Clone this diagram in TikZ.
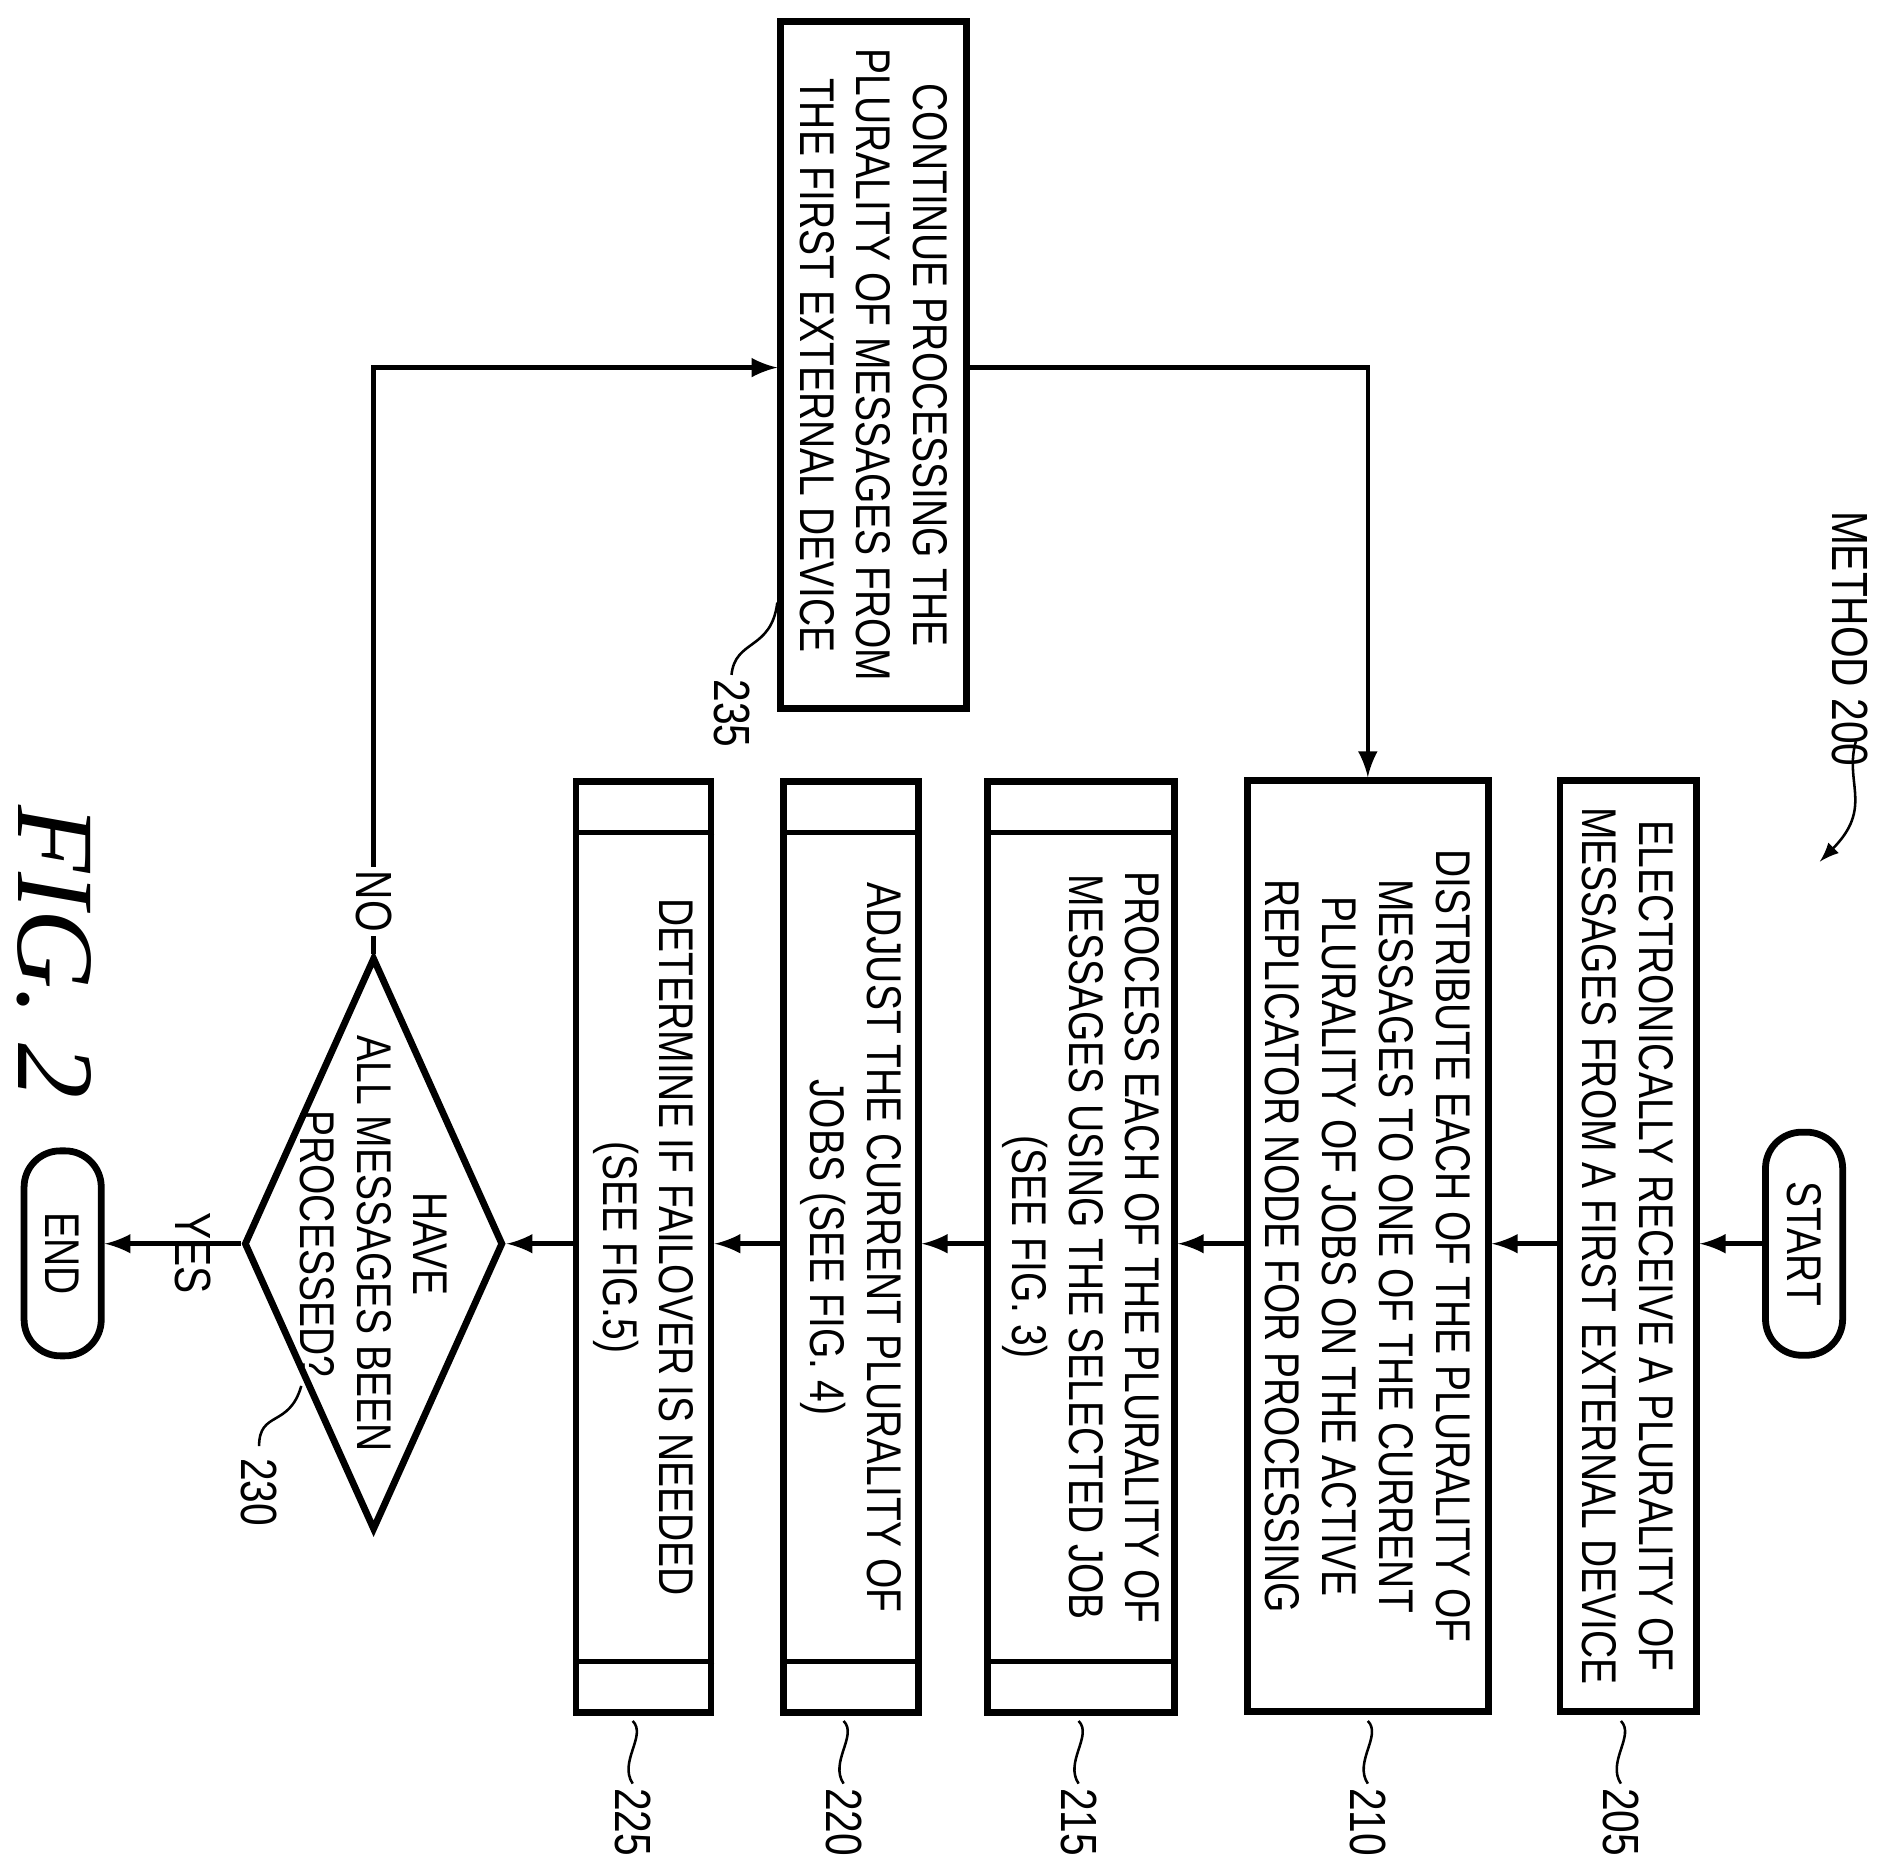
\documentclass[tikz,border=0pt]{standalone}
\usepackage{fontspec}
\setmainfont[FakeStretch=0.8]{Liberation Sans}
\newfontfamily\figfont{Liberation Serif}
\usetikzlibrary{shapes.geometric,calc}
\tikzset{
  box/.style={draw, line width=1.6pt, rotate=-90, align=center, inner sep=1pt,
    font=\fontsize{11.5}{13.4}\selectfont, minimum width=7.72cm},
  term/.style={draw, line width=1.6pt, rounded corners=0.3cm, rotate=-90,
    font=\fontsize{11.5}{13.4}\selectfont, minimum height=0.64cm, inner sep=1pt},
  dec/.style={draw, line width=1.6pt, diamond, rotate=-90,
    inner sep=0pt, minimum width=4.75cm, minimum height=2.15cm},
  flow/.style={line width=1.1pt, -latex},
  lbl/.style={rotate=-90, font=\fontsize{12}{14}\selectfont},
}
\newcommand{\squig}[2]{\draw[line width=0.6pt] (#1) .. controls ++(12,12) and ++(-12,-18) .. ++(0,#2);}
\begin{document}
\begin{tikzpicture}[x=0.01cm,y=-0.01cm]
  \useasboundingbox (0,0) rectangle (1560,1556);

  % steps
  \node[term, minimum width=1.85cm] (start) at (1497,1032) {START};
  \node[box, minimum height=1.13cm] (s205) at (1351,1034)
    {ELECTRONICALLY RECEIVE A PLURALITY OF\\MESSAGES FROM A FIRST EXTERNAL DEVICE};
  \node[box, minimum height=2.0cm] (s210) at (1135,1034)
    {DISTRIBUTE EACH OF THE PLURALITY OF\\MESSAGES TO ONE OF THE CURRENT\\PLURALITY OF JOBS ON THE ACTIVE\\REPLICATOR NODE FOR PROCESSING};
  \node[box, minimum height=1.55cm] (s215) at (897,1035)
    {PROCESS EACH OF THE PLURALITY OF\\MESSAGES USING THE SELECTED JOB\\(SEE FIG. 3)};
  \node[box, minimum height=1.12cm] (s220) at (706,1035)
    {ADJUST THE CURRENT PLURALITY OF\\JOBS (SEE FIG. 4)};
  \node[box, minimum height=1.12cm] (s225) at (534,1035)
    {DETERMINE IF FAILOVER IS NEEDED\\(SEE FIG.5)};
  \node[dec] (d230) at (310,1032) {};
  \node[rotate=-90, align=center, font=\fontsize{11.5}{13.4}\selectfont] (t230) at (310,1032)
    {HAVE\\ALL MESSAGES BEEN\\PROCESSED?};
  \node[term, minimum width=1.7cm] (end) at (52,1040) {END};
  \node[box, minimum width=5.7cm, minimum height=1.54cm] (s235) at (725,303)
    {CONTINUE PROCESSING THE\\PLURALITY OF MESSAGES FROM\\THE FIRST EXTERNAL DEVICE};

  % predefined process bars
  \foreach \b in {s215,s220,s225}{
    \draw[line width=1.2pt] ($(\b.north west)!0.058!(\b.north east)$) -- ($(\b.south west)!0.058!(\b.south east)$);
    \draw[line width=1.2pt] ($(\b.north west)!0.942!(\b.north east)$) -- ($(\b.south west)!0.942!(\b.south east)$);
  }

  % connectors
  \draw[flow] (start.south) -- (start.south -| s205.north);
  \draw[flow] (s205.south |- start) -- (s210.north |- start);
  \draw[flow] (s210.south |- start) -- (s215.north |- start);
  \draw[flow] (s215.south |- start) -- (s220.north |- start);
  \draw[flow] (s220.south |- start) -- (s225.north |- start);
  \draw[flow] (s225.south |- start) -- (d230.north);
  \draw[flow] (d230.south) -- (end.north |- d230.south);
  \node[lbl] (yes) at (160,1040) {YES};
  \draw[flow] (d230.west) -- (310,305) -- (s235.south |- 310,305);
  \node[lbl, fill=white, inner sep=1pt] (no) at (310,748) {NO};
  \draw[flow] (s235.north |- 0,305) -- (1135,305) -- (1135,0 |- s210.west);

  % reference labels
  \foreach \n/\x in {205/1345,210/1135,215/895,220/700,225/525}{
    \coordinate (q\n) at (\x,1428);
    \squig{q\n}{52}
    \node[lbl] (r\n) at (\x,1512) {\n};
  }
  \coordinate (q230) at (250,1150);
  \draw[line width=0.6pt] (q230) .. controls (240,1185) and (215,1170) .. (215,1200);
  \node[lbl] (r230) at (215,1238) {230};
  \coordinate (q235) at (645,500);
  \draw[line width=0.6pt] (q235) .. controls (640,540) and (610,530) .. (607,560);
  \node[lbl] (r235) at (607,592) {235};

  \node[lbl] (method) at (1535,530) {METHOD 200};
  \coordinate (ma) at (1540,615);
  \draw[line width=0.6pt, -latex] (ma) .. controls (1530,650) and (1555,670) .. (1510,715);

  \node[rotate=-90, font=\figfont\itshape\fontsize{26}{30}\selectfont] (fig) at (45,790) {FIG. 2};
\end{tikzpicture}
\end{document}
